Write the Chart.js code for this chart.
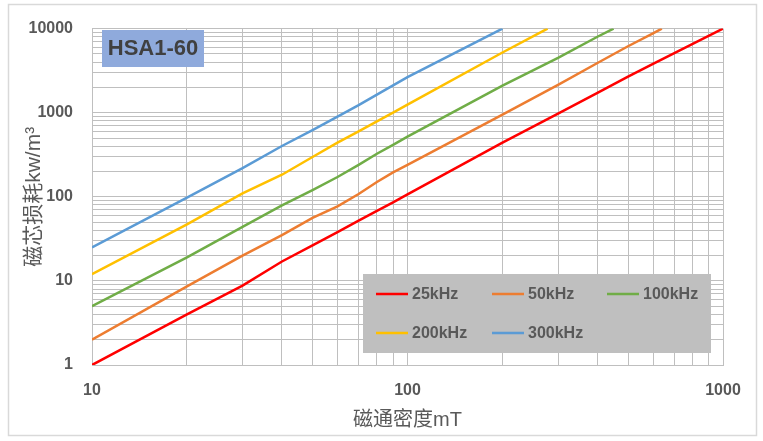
<!DOCTYPE html>
<html>
<head>
<meta charset="utf-8">
<script src="https://cdn.jsdelivr.net/npm/chart.js@4/dist/chart.umd.min.js"></script>
<style>
  html, body { margin: 0; padding: 0; background: #fff; }
  #wrap { width: 763px; height: 441px; position: relative; }
</style>
</head>
<body>
<div id="wrap"><canvas id="lossChart" width="763" height="441"></canvas></div>
<script>
// 磁通密度 mT vs 磁芯损耗 kW/m3
const series = ['25kHz', '50kHz', '100kHz', '200kHz', '300kHz'];
const colors = ['#ff0000', '#ed7d31', '#70ad47', '#ffc000', '#5b9bd5'];

const b25k = [10, 20, 30, 40, 50, 60, 70, 80, 90, 100, 200, 300, 400, 500, 600, 1000];
const p25k = [1, 4.0, 8.8, 17, 26.5, 38, 52, 68, 86, 107, 440, 975, 1720, 2680, 3800, 10000];

const b50k = [10, 20, 30, 40, 50, 60, 70, 80, 90, 100, 200, 300, 400, 500, 600, 640];
const p50k = [2, 8.6, 20, 35, 56, 77, 108, 150, 195, 240, 950, 2140, 3900, 6170, 8800, 10000];

const b100k = [10, 20, 30, 40, 50, 60, 70, 80, 90, 100, 200, 300, 400, 450];
const p100k = [5, 19, 44, 79, 120, 172, 240, 325, 415, 520, 2100, 4500, 8000, 10000];

const b200k = [10, 20, 30, 40, 50, 60, 70, 80, 90, 100, 200, 278];
const p200k = [12, 47, 110, 183, 297, 440, 600, 787, 1000, 1250, 5200, 10000];

const b300k = [10, 20, 30, 40, 50, 60, 70, 80, 90, 100, 200];
const p300k = [25, 98, 219, 402, 620, 900, 1230, 1640, 2110, 2650, 10000];

const xTickLabels = ['10', '100', '1000'];
const yTickLabels = ['1', '10', '100', '1000', '10000'];

const xs = [b25k, b50k, b100k, b200k, b300k];
const ys = [p25k, p50k, p100k, p200k, p300k];

const latin = "'Liberation Sans', 'Noto Sans CJK SC', sans-serif";
const grey = '#595959';

// 1,2,...,9 x 10^n grid positions
const logTicks = (min, max) => {
    const t = [];
    for (let v = min; v < max; v *= 10) {
        for (let m = 1; m < 10; m++) t.push({ value: m * v });
    }
    t.push({ value: max });
    return t;
};

const showMajor = (list) => (value) => {
    const hit = list.find(l => Math.abs(Number(l) - value) < 1e-6 * value);
    return hit ?? '';
};

const datasets = series.map((name, i) => ({
    label: name,
    data: xs[i].map((x, j) => ({ x: x, y: ys[i][j] })),
    borderColor: colors[i],
    backgroundColor: colors[i],
    borderWidth: 2.5,
    pointRadius: 0,
    showLine: true,
    tension: 0
}));

const frame = {
    id: 'frame',
    beforeDraw(chart) {
        const ctx = chart.ctx;
        ctx.save();
        ctx.fillStyle = '#fff';
        ctx.fillRect(0, 0, chart.width, chart.height);
        ctx.strokeStyle = '#d9d9d9';
        ctx.lineWidth = 1.5;
        ctx.strokeRect(8.5, 4.5, 748, 431);
        ctx.restore();
    },
    afterDraw(chart) {
        const ctx = chart.ctx;
        ctx.save();
        // grade tag
        ctx.fillStyle = '#8faadc';
        ctx.fillRect(102, 30, 102, 37);
        ctx.fillStyle = '#404040';
        ctx.font = 'bold 22px ' + latin;
        ctx.textAlign = 'center';
        ctx.textBaseline = 'middle';
        ctx.fillText('HSA1-60', 153, 49);

        // legend box inside the plot
        ctx.fillStyle = '#bfbfbf';
        ctx.fillRect(363, 274, 348, 79);
        ctx.font = 'bold 16px ' + latin;
        ctx.textAlign = 'left';
        const cols = [376, 492, 607];
        const rows = [294, 333];
        chart.data.datasets.forEach((ds, i) => {
            const x = cols[i % 3];
            const y = rows[Math.floor(i / 3)];
            ctx.strokeStyle = ds.borderColor;
            ctx.lineWidth = 2.5;
            ctx.beginPath();
            ctx.moveTo(x, y);
            ctx.lineTo(x + 32, y);
            ctx.stroke();
            ctx.fillStyle = grey;
            ctx.fillText(ds.label, x + 36, y + 1);
        });
        ctx.restore();
    }
};

new Chart(document.getElementById('lossChart'), {
    type: 'scatter',
    data: { datasets: datasets },
    plugins: [frame],
    options: {
        responsive: false,
        animation: false,
        layout: { padding: { left: 0, top: 22, right: 40, bottom: 0 } },
        plugins: {
            legend: { display: false },
            tooltip: { enabled: false }
        },
        scales: {
            x: {
                type: 'logarithmic',
                min: 10,
                max: 1000,
                afterBuildTicks: (s) => { s.ticks = logTicks(10, 1000); },
                afterFit: (s) => { s.height = 76; },
                grid: { color: '#bfbfbf', lineWidth: 1, drawTicks: false },
                border: { color: '#bfbfbf' },
                ticks: {
                    autoSkip: false,
                    maxRotation: 0,
                    padding: 16,
                    color: grey,
                    font: { family: latin, size: 16, weight: 'bold' },
                    callback: showMajor(xTickLabels)
                },
                title: {
                    display: true,
                    text: '磁通密度mT',
                    color: grey,
                    font: { family: latin, size: 20 },
                    padding: { top: 0, bottom: 9 }
                }
            },
            y: {
                type: 'logarithmic',
                min: 1,
                max: 10000,
                afterBuildTicks: (s) => { s.ticks = logTicks(1, 10000); },
                afterFit: (s) => { s.width = 92; },
                grid: { color: '#bfbfbf', lineWidth: 1, drawTicks: false },
                border: { color: '#bfbfbf' },
                ticks: {
                    autoSkip: false,
                    padding: 19,
                    color: grey,
                    font: { family: latin, size: 16, weight: 'bold' },
                    callback: showMajor(yTickLabels)
                },
                title: {
                    display: true,
                    text: '磁芯损耗kw/m³',
                    color: grey,
                    font: { family: latin, size: 21 },
                    padding: { top: 22, bottom: 0 }
                }
            }
        }
    }
});
</script>
</body>
</html>
